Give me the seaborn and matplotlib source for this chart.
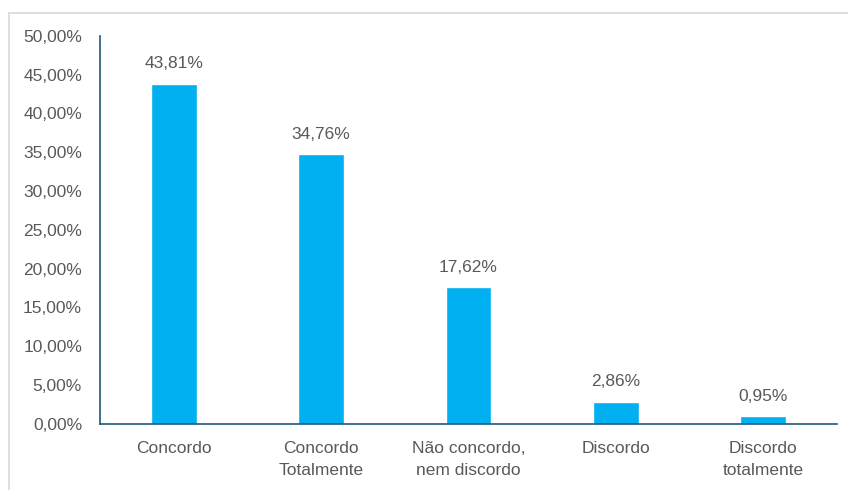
import matplotlib
matplotlib.use("Agg")
import matplotlib.pyplot as plt
import seaborn as sns
import pandas as pd
from matplotlib.patches import Rectangle
from matplotlib.ticker import FuncFormatter

categories = ["Concordo", "Concordo\nTotalmente", "Não concordo,\nnem discordo",
              "Discordo", "Discordo\ntotalmente"]
values = [43.81, 34.76, 17.62, 2.86, 0.95]

df = pd.DataFrame({"categoria": categories, "pct": values})

sns.set_theme(style="white")
plt.rcParams["font.family"] = ["Liberation Sans", "DejaVu Sans"]

text_color = "#595959"
bar_color = "#00B0F0"
axis_color = "#1F5A7A"
fs = 12.5

fig = plt.figure(figsize=(8.48, 4.9), dpi=100)
ax = fig.add_axes([0.118, 0.135, 0.869, 0.792])

sns.barplot(data=df, x="categoria", y="pct", color=bar_color, width=0.31,
            saturation=1, ax=ax)

ax.set_ylim(0, 50)
ax.set_yticks(range(0, 51, 5))
ax.yaxis.set_major_formatter(FuncFormatter(lambda v, _: f"{v:.2f}".replace(".", ",") + "%"))
ax.set_xlim(-0.5, len(categories) - 0.5)
ax.set_xlabel("")
ax.set_ylabel("")

for i, v in enumerate(values):
    ax.annotate(f"{v:.2f}".replace(".", ",") + "%", (i, v), xytext=(0, 9),
                textcoords="offset points", ha="center", va="bottom",
                fontsize=fs, color=text_color)

ax.tick_params(axis="both", length=0, labelsize=fs, colors=text_color)
ax.tick_params(axis="x", pad=12)
ax.tick_params(axis="y", pad=13)
for lbl in ax.get_xticklabels():
    lbl.set_linespacing(1.6)

for side in ["top", "right"]:
    ax.spines[side].set_visible(False)
for side in ["left", "bottom"]:
    ax.spines[side].set_color(axis_color)
    ax.spines[side].set_linewidth(1.2)

fig.patches.append(Rectangle((9 / 848, -0.1), 1.2, 1.1 - 13 / 490,
                             transform=fig.transFigure, fill=False,
                             edgecolor="#D9D9D9", linewidth=1.2))

fig.savefig("out.png", dpi=100)
